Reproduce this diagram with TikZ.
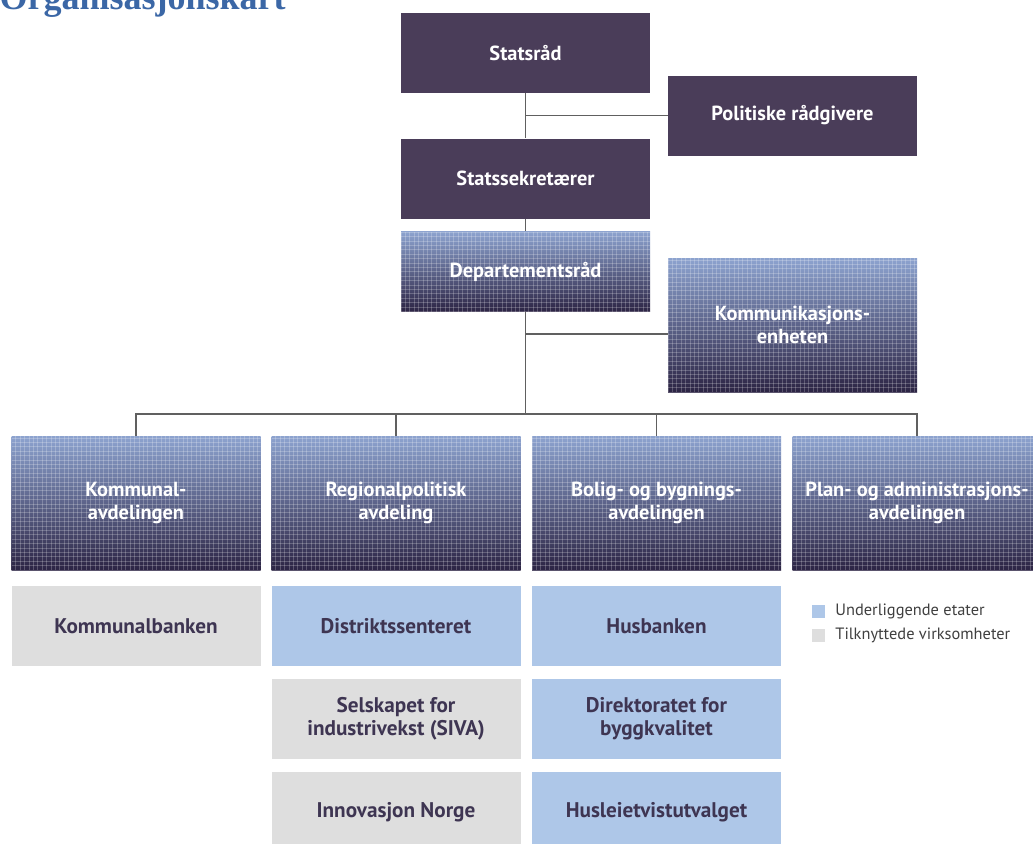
\documentclass[tikz,border=0pt]{standalone}
\usepackage{fontspec}
\setmainfont{PT Sans}
\newfontfamily\titlefont{Liberation Serif}

\definecolor{leder}{HTML}{4A3D59}
\definecolor{gradtop}{HTML}{8DA3CF}
\definecolor{gradbot}{HTML}{2C2444}
\definecolor{etat}{HTML}{AEC7E8}
\definecolor{virksomhet}{HTML}{DEDEDE}
\definecolor{boxtext}{HTML}{3E3552}
\definecolor{titleblue}{HTML}{3B67A6}
\definecolor{linegray}{HTML}{606060}

\tikzset{
	org/.style={inner sep=0pt, align=center, minimum width=124.5pt, font=\fontsize{10.2}{11.5}\selectfont\bfseries},
	lederbox/.style={org, fill=leder, text=white, minimum height=40pt},
	rasterline/.style={white, opacity=0.22, line width=0.45pt},
	avdbox/.style={org, top color=gradtop, bottom color=gradbot, text=white,
		path picture={
			\foreach \i in {0,2.2,...,126}
				\draw[rasterline] ([xshift=\i pt]path picture bounding box.south west) -- ([xshift=\i pt]path picture bounding box.north west);
			\foreach \j in {0,2.2,...,68}
				\draw[rasterline] ([yshift=\j pt]path picture bounding box.south west) -- ([yshift=\j pt]path picture bounding box.south east);
		}},
	etatbox/.style={org, fill=etat, text=boxtext, minimum height=40pt, font=\fontsize{10.6}{11.5}\selectfont\bfseries},
	virkbox/.style={etatbox, fill=virksomhet},
	legendsq/.style={inner sep=0pt, minimum size=6.5pt},
	legendtxt/.style={anchor=west, inner sep=0pt, text=black!75, font=\fontsize{8.2}{9}\selectfont},
	link/.style={draw=linegray, line width=0.75pt},
}

\begin{document}
\begin{tikzpicture}[x=0.5pt, y=-0.5pt]
			%%%%% START %%%%%
			\useasboundingbox (0,0) rectangle (1033,843);
			
			\node[anchor=base east, inner sep=0pt, text=titleblue, font=\titlefont\bfseries\fontsize{18}{20}\selectfont] (tittel) at (286,9) {Organisasjonskart};
			
			% ledelsen
			\node[lederbox] (statsrad) at (525.5,53) {Statsråd};
			\node[lederbox] (politisk) at (792.5,115.5) {Politiske rådgivere};
			\node[lederbox] (sekretar) at (525.5,178.5) {Statssekretærer};
			\node[avdbox, minimum height=40pt] (deprad) at (525.5,271.5) {Departementsråd};
			\node[avdbox, minimum height=67pt] (komm) at (792.5,325) {Kommunikasjons-\\enheten};
			\coordinate (bus) at (525.5,414);
			
			% avdelinger
			\node[avdbox, minimum height=67pt] (kommunal) at (136,503) {Kommunal-\\avdelingen};
			\node[avdbox, minimum height=67pt] (regional) at (396,503) {Regionalpolitisk\\avdeling};
			\node[avdbox, minimum height=67pt] (bolig) at (656.5,503) {Bolig- og bygnings-\\avdelingen};
			\node[avdbox, minimum height=67pt] (plan) at (917,503) {Plan- og administrasjons-\\avdelingen};
			
			% etater og virksomheter
			\node[virkbox] (kbanken) at (136,626) {Kommunalbanken};
			\node[etatbox] (distrikt) at (396,626) {Distriktssenteret};
			\node[virkbox] (siva) at (396,719) {Selskapet for\\industrivekst (SIVA)};
			\node[virkbox] (innovasjon) at (396,812) {Innovasjon Norge};
			\node[etatbox] (husbanken) at (656.5,626) {Husbanken};
			\node[etatbox] (dibk) at (656.5,719) {Direktoratet for\\byggkvalitet};
			\node[etatbox] (husleie) at (656.5,812) {Husleietvistutvalget};
			
			% linjer
			\draw[link] (statsrad.south) -- (sekretar.north);
			\draw[link] (politisk.west) -- (politisk.west -| statsrad.south);
			\draw[link] (sekretar.south) -- (deprad.north);
			\draw[link] (deprad.south) -- (bus);
			\draw[link] ([yshift=-4.5pt]komm.west) -- ([yshift=-4.5pt]komm.west -| deprad.south);
			\draw[link] (kommunal.north) |- (bus) -| (plan.north);
			\foreach \avd in {regional,bolig}
				\draw[link] (\avd.north) -- (\avd.north |- bus);
			
			% forklaring
			\node[legendsq, fill=etat] (sqetat) at (818.5,611) {};
			\node[legendsq, fill=virksomhet] (sqvirk) at (818.5,635) {};
			\node[legendtxt] (txetat) at (835,611) {Underliggende etater};
			\node[legendtxt] (txvirk) at (835,635) {Tilknyttede virksomheter};
			
			%%%%% END %%%%%
\end{tikzpicture}
\end{document}
